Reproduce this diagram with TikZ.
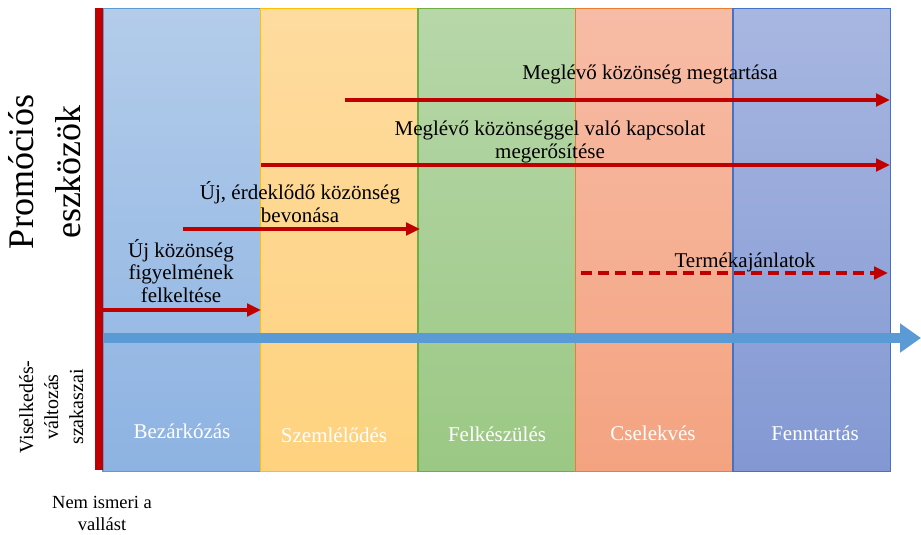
\documentclass[tikz,border=0pt]{standalone}
\usepackage{fontspec}
\setmainfont{Liberation Serif}
\usetikzlibrary{arrows.meta}
\definecolor{barred}{HTML}{C00000}
\definecolor{flowblue}{HTML}{5B9BD5}
\definecolor{aTop}{HTML}{B3CCEA}\definecolor{aBot}{HTML}{8DB3E2}\definecolor{aLine}{HTML}{5B9BD5}
\definecolor{bTop}{HTML}{FEDB9F}\definecolor{bBot}{HTML}{FED27E}\definecolor{bLine}{HTML}{FFC000}
\definecolor{cTop}{HTML}{B7D7A9}\definecolor{cBot}{HTML}{9BC884}\definecolor{cLine}{HTML}{70AD47}
\definecolor{dTop}{HTML}{F7BCA6}\definecolor{dBot}{HTML}{F4A380}\definecolor{dLine}{HTML}{ED7D31}
\definecolor{eTop}{HTML}{A8B7E1}\definecolor{eBot}{HTML}{8398D3}\definecolor{eLine}{HTML}{4472C4}
\begin{document}
\begin{tikzpicture}[x=1pt,y=-1pt,
  stage/.style={rectangle, inner sep=0pt, minimum width=157.5pt, minimum height=463pt, line width=1.2pt},
  stagelabel/.style={anchor=base, inner sep=0pt, text=white, font=\fontsize{21}{23}\selectfont},
  tool/.style={anchor=base, inner sep=0pt, align=center, font=\fontsize{21}{22.5}\selectfont},
  promo/.style={line width=4pt, draw=barred, -{Triangle[length=14pt,width=12.5pt]}},
]
\useasboundingbox (0,0) rectangle (921,535);
% stage columns
\node[stage, top color=aTop, bottom color=aBot, draw=aLine] (s1) at (181.75,240) {};
\node[stage, top color=bTop, bottom color=bBot, draw=bLine] (s2) at (339.25,240) {};
\node[stage, top color=cTop, bottom color=cBot, draw=cLine] (s3) at (496.75,240) {};
\node[stage, top color=dTop, bottom color=dBot, draw=dLine] (s4) at (654.25,240) {};
\node[stage, top color=eTop, bottom color=eBot, draw=eLine] (s5) at (811.75,240) {};
% red vertical bar
\node[rectangle, inner sep=0pt, minimum width=8pt, minimum height=462pt, fill=barred] (bar) at (99,239) {};
% stage labels
\node[stagelabel] (l1) at (182,438) {Bezárkózás};
\node[stagelabel] (l2) at (334,442) {Szemlélődés};
\node[stagelabel] (l3) at (497,441) {Felkészülés};
\node[stagelabel] (l4) at (653,440) {Cselekvés};
\node[stagelabel] (l5) at (815,440) {Fenntartás};
% blue flow arrow
\coordinate (fs) at (103,338);
\coordinate (fe) at (921,338);
\draw[line width=10pt, flowblue, -{Triangle[length=21pt,width=28pt]}] (fs) -- (fe);
% promotion arrows
\coordinate (a1s) at (103,310); \coordinate (a1e) at (261,310);
\coordinate (a2s) at (183,229); \coordinate (a2e) at (420,229);
\coordinate (a3s) at (261,165); \coordinate (a3e) at (890,165);
\coordinate (a4s) at (345,100); \coordinate (a4e) at (890,100);
\coordinate (a5s) at (581,273); \coordinate (a5e) at (888,273);
\draw[promo] (a1s) -- (a1e);
\draw[promo] (a2s) -- (a2e);
\draw[promo] (a3s) -- (a3e);
\draw[promo] (a4s) -- (a4e);
\draw[promo, dash pattern=on 11pt off 6pt] (a5s) -- (a5e);
% arrow labels (base = baseline of last line)
\node[tool] (t1) at (181,302) {Új közönség\\figyelmének\\felkeltése};
\node[tool] (t2) at (300,222) {Új, érdeklődő közönség\\bevonása};
\node[tool] (t3) at (550,158) {Meglévő közönséggel való kapcsolat\\megerősítése};
\node[tool] (t4) at (650,80) {Meglévő közönség megtartása};
\node[tool] (t5) at (745,267) {Termékajánlatok};
% left labels
\node[anchor=base, inner sep=0pt, align=center, rotate=90, font=\fontsize{36}{47}\selectfont] (promolab) at (80,172) {Promóciós\\eszközök};
\node[anchor=base, inner sep=0pt, align=center, rotate=90, font=\fontsize{20}{25}\selectfont] (stagelab) at (83,407) {Viselkedés-\\változás\\szakaszai};
\node[anchor=base, inner sep=0pt, align=center, font=\fontsize{18.5}{22}\selectfont] (startlab) at (102,530) {Nem ismeri a\\vallást};
\end{tikzpicture}
\end{document}
